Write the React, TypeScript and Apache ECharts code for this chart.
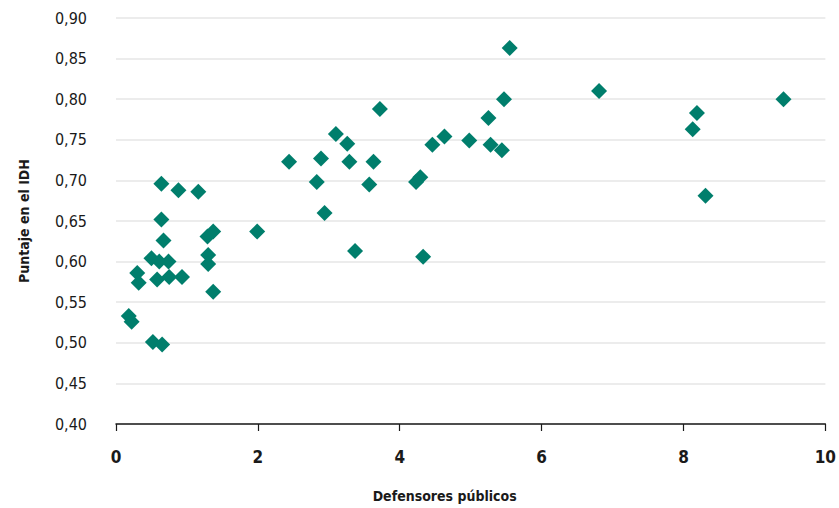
import React, { useEffect, useRef } from "react";
import * as echarts from "echarts";

const xValues = [
  0.18, 0.22, 0.30, 0.32, 0.50, 0.52, 0.58, 0.61, 0.64, 0.64, 0.65, 0.67, 0.74, 0.75, 0.88, 0.93,
  1.16, 1.29, 1.30, 1.30, 1.37, 1.37, 1.99, 2.44, 2.83, 2.89, 2.94, 3.10, 3.26, 3.29, 3.37, 3.57,
  3.63, 3.72, 4.23, 4.29, 4.33, 4.46, 4.63, 4.98, 5.25, 5.28, 5.44, 5.47, 5.55, 6.81, 8.13, 8.19,
  8.31, 9.41,
];
const yValues = [
  0.533, 0.526, 0.586, 0.574, 0.604, 0.501, 0.578, 0.600, 0.696, 0.652, 0.498, 0.626, 0.600, 0.581, 0.688, 0.581,
  0.686, 0.631, 0.608, 0.597, 0.637, 0.563, 0.637, 0.723, 0.698, 0.727, 0.660, 0.757, 0.745, 0.723, 0.613, 0.695,
  0.723, 0.788, 0.698, 0.704, 0.606, 0.744, 0.754, 0.749, 0.777, 0.744, 0.737, 0.800, 0.863, 0.810, 0.763, 0.783,
  0.681, 0.800,
];
const xAxisTitle = "Defensores públicos";
const yAxisTitle = "Puntaje en el IDH";

const FONT = '"Liberation Sans Narrow", "DejaVu Sans Condensed", "Roboto", sans-serif';

export default function App() {
  const ref = useRef<HTMLDivElement>(null);
  useEffect(() => {
    if (!ref.current) return;
    const chart = echarts.init(ref.current, undefined, { renderer: "svg" });
    const data = xValues.map((x, i) => [x, yValues[i]]);
    chart.setOption({
      animation: false,
      grid: { left: 116, right: 7, top: 18, bottom: 82 },
      xAxis: {
        type: "value",
        min: 0,
        max: 10,
        interval: 2,
        name: xAxisTitle,
        nameLocation: "middle",
        nameGap: 65,
        nameTextStyle: {
          fontFamily: FONT,
          fontWeight: "bold",
          fontSize: 14,
          color: "#1a1a1a",
          padding: [0, 52, 0, 0],
        },
        axisLine: { show: true, lineStyle: { color: "#1a1a1a", width: 1.5 } },
        axisTick: { show: true, length: 7, lineStyle: { color: "#1a1a1a", width: 1.2 } },
        splitLine: { show: false },
        axisLabel: {
          margin: 24,
          fontFamily: FONT,
          fontWeight: "bold",
          fontSize: 17,
          color: "#1a1a1a",
        },
      },
      yAxis: {
        type: "value",
        min: 0.4,
        max: 0.9,
        interval: 0.05,
        name: yAxisTitle,
        nameLocation: "middle",
        nameGap: 85,
        nameTextStyle: {
          fontFamily: FONT,
          fontWeight: "bold",
          fontSize: 14,
          color: "#1a1a1a",
        },
        axisLine: { show: false },
        axisTick: { show: false },
        splitLine: { show: true, lineStyle: { color: "#e6e6e6", width: 1.5 } },
        axisLabel: {
          margin: 29,
          fontFamily: FONT,
          fontSize: 16,
          color: "#1a1a1a",
          formatter: (v: number) => v.toFixed(2).replace(".", ","),
        },
      },
      series: [
        {
          type: "scatter",
          data,
          symbol: "diamond",
          symbolSize: 16,
          itemStyle: { color: "#007e6c", opacity: 1 },
        },
      ],
    });
    return () => chart.dispose();
  }, []);
  return (
    <div
      ref={ref}
      style={{ position: "absolute", left: 0, top: 0, width: 839, height: 508 }}
    />
  );
}
